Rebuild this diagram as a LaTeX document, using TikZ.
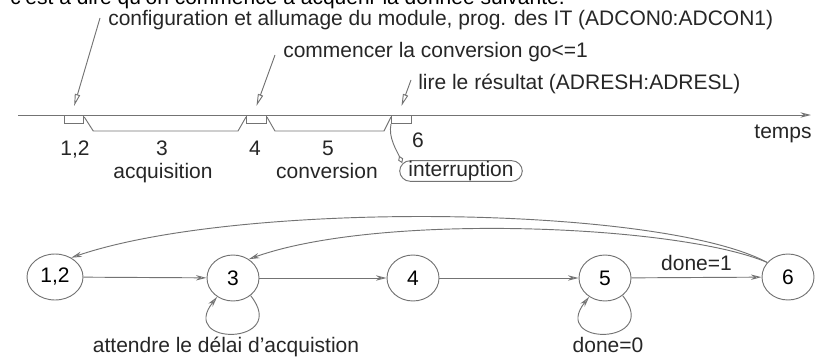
\documentclass[tikz,border=0pt]{standalone}
\usepackage{fontspec}
\setmainfont{Liberation Sans}
\usetikzlibrary{arrows.meta,calc,shapes.geometric}
\begin{document}
\begin{tikzpicture}[x=0.75pt,y=0.75pt,
  font=\fontsize{15.75}{18}\selectfont,
  ln/.style={draw=black!55, line width=0.7pt},
  tickbox/.style={ln, fill=white, minimum width=14.5pt, minimum height=6pt, inner sep=0pt, anchor=north west},
  state/.style={ellipse, ln, minimum width=39pt, minimum height=34.5pt, inner sep=0pt},
  lbl/.style={text=black!85, inner sep=0pt},
  arr/.style={ln, -{Stealth[open, length=8pt, width=4pt]}},
  thinarr/.style={ln, -{Triangle[open, length=9pt, width=4pt]}},
  ibox/.style={ln, rounded corners=8pt, minimum width=92pt, minimum height=15.5pt, inner sep=0pt, text=black!85}
]
\useasboundingbox (0,0) rectangle (821,-357);

% cut-off sentence at the top
\node[lbl, text=black, anchor=base west] (top) at (10,-4) {c'est à dire qu'on commence à acquérir la donnée suivante.};

% annotation texts
\node[lbl, anchor=base west] (t1) at (108,-26) {configuration et allumage du module, prog. des IT (ADCON0:ADCON1)};
\node[lbl, anchor=base west] (t2) at (283,-57) {commencer la conversion go<=1};
\node[lbl, anchor=base west] (t3) at (418,-89) {lire le résultat (ADRESH:ADRESL)};

% time axis
\coordinate (ax0) at (18,-115);
\coordinate (ax1) at (811,-115);
\draw[arr] (ax0) -- (ax1);
\node[lbl, anchor=base] (temps) at (783,-138) {temps};

% boxes on the axis
\node[tickbox] (b1) at (64,-115) {};
\node[tickbox, minimum width=15pt] (b2) at (246,-115) {};
\node[tickbox, minimum width=15pt] (b3) at (391,-115) {};

% brackets
\draw[ln] ([yshift=-1.5pt]b1.north east) -- ([shift={(9,-16)}]b1.north east)
  -- ([shift={(-8,-16)}]b2.north west) -- ([yshift=-1.5pt]b2.north west);
\draw[ln] ([yshift=-1.5pt]b2.north east) -- ([shift={(8,-16)}]b2.north east)
  -- ([shift={(-7,-16)}]b3.north west) -- ([yshift=-1.5pt]b3.north west);

% annotation arrows
\coordinate (a1) at (100,-18);
\coordinate (a2) at (275,-55);
\coordinate (a3) at (411,-80);
\draw[thinarr] (a1) -- ($(b1.north)+(0,9)$);
\draw[thinarr] (a2) -- ($(b2.north)+(0,9)$);
\draw[thinarr] (a3) -- ($(b3.north)+(0,9)$);

% labels under the axis
\node[lbl, anchor=base] (l12) at (75,-155) {1,2};
\node[lbl, anchor=base] (l3) at (162,-155) {3};
\node[lbl, anchor=base] (l4) at (255,-155) {4};
\node[lbl, anchor=base] (l5) at (328,-155) {5};
\node[lbl, anchor=base] (l6) at (418,-147) {6};
\node[lbl, anchor=base] (acq) at (163,-178) {acquisition};
\node[lbl, anchor=base] (conv) at (327,-178) {conversion};

% interruption
\node[ibox] (intr) at (461,-171) {interruption};
\draw[ln, -{Diamond[open, length=6pt, width=4pt]}] (b3.south west)
  .. controls +(-3,-14) and +(-5,12) .. ($(intr.north west)+(3,-3)$);

% state graph
\node[state, minimum width=42pt] (n12) at (55,-277) {1,2};
\node[state] (n3) at (233,-278) {3};
\node[state] (n4) at (413,-278) {4};
\node[state] (n5) at (605,-278) {5};
\node[state] (n6) at (788,-277) {6};

\draw[arr] (n12) -- (n3);
\draw[arr] (n3) -- (n4);
\draw[arr] (n4) -- (n5);
\draw[arr] (n5) -- node[lbl, above=5pt, midway] (d1) {done=1} (n6);

\draw[arr] (n3.-45) .. controls +(40,-50) and +(-40,-50) .. (n3.-130);
\draw[arr] (n5.-45) .. controls +(40,-50) and +(-40,-50) .. (n5.-130);
\node[lbl, anchor=base] (att) at (226,-352) {attendre le délai d'acquistion};
\node[lbl, anchor=base] (d0) at (608,-352) {done=0};

\draw[arr] (n6.145) .. controls (660,-205) and (240,-200) .. (n12.50);
\draw[arr] (n6.145) .. controls (680,-225) and (380,-212) .. (n3.50);
\end{tikzpicture}
\end{document}
